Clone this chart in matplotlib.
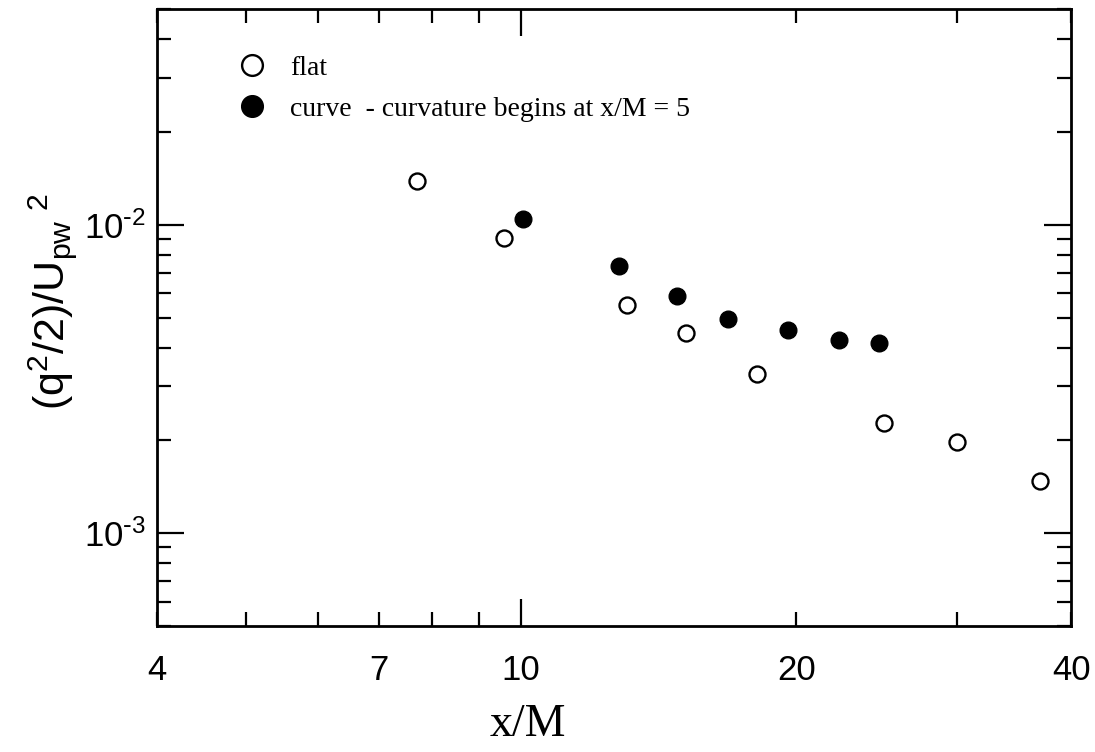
import math
import matplotlib.pyplot as plt
from matplotlib.ticker import FixedLocator, FuncFormatter, NullFormatter, LogLocator

plt.rcParams['font.family'] = ['Liberation Sans', 'DejaVu Sans']
plt.rcParams['mathtext.default'] = 'regular'

# flat plate data
x_flat = [7.69, 9.58, 13.05, 15.15, 18.13, 24.95, 29.96, 36.96]
q_flat = [0.01392, 0.00909, 0.00550, 0.00447, 0.00328, 0.00228, 0.00198, 0.00148]

# curved plate data (curvature starts at x/M = 5)
x_curve = [10.06, 12.80, 14.80, 16.86, 19.57, 22.29, 24.64]
q_curve = [0.01046, 0.00736, 0.00590, 0.00495, 0.00456, 0.00423, 0.00415]

x_labels = [4, 7, 20, 40]


def y_fmt(v, pos):
    # plain hyphen in the exponent rather than a unicode minus
    return '10$^{\\text{-}%d}$' % round(-math.log10(v))


fig = plt.figure(figsize=(10.95, 7.52), dpi=100)
ax = fig.add_axes([0.1434, 0.1676, 0.8351, 0.8198])

ax.plot(x_flat, q_flat, 'o', ms=11.5, mfc='white', mec='black', mew=1.7, label='flat')
ax.plot(x_curve, q_curve, 'o', ms=12, mfc='black', mec='black', mew=1.0,
        label='curve  - curvature begins at x/M = 5')

ax.set_xscale('log')
ax.set_yscale('log')
ax.set_xlim(4, 40)
ax.set_ylim(5e-4, 5e-2)

# x axis: long tick only at 10, short ticks elsewhere, labels on a few of them
ax.xaxis.set_major_locator(FixedLocator([10]))
ax.xaxis.set_major_formatter(FuncFormatter(lambda v, p: '%g' % v))
ax.xaxis.set_minor_locator(FixedLocator([4, 5, 6, 7, 8, 9, 20, 30, 40]))
ax.xaxis.set_minor_formatter(FuncFormatter(lambda v, p: '%g' % v if round(v) in x_labels else ''))

ax.yaxis.set_major_locator(LogLocator(base=10, numticks=10))
ax.yaxis.set_major_formatter(FuncFormatter(y_fmt))
ax.yaxis.set_minor_locator(LogLocator(base=10, subs=range(2, 10), numticks=20))
ax.yaxis.set_minor_formatter(NullFormatter())

ax.tick_params(which='both', direction='in', top=True, right=True, width=1.6, labelsize=25)
ax.tick_params(which='major', length=19.5, pad=20)
ax.tick_params(which='minor', length=10, pad=20)
ax.tick_params(axis='y', which='both', pad=8)
for s in ax.spines.values():
    s.set_linewidth(2.0)

ax.set_xlabel('x/M', family='Liberation Serif', fontsize=33)
ax.xaxis.set_label_coords(0.406, -0.126)
ax.set_ylabel('(q$^2$/2)/U$_{pw}$$^{\\ 2}$', fontsize=31)
ax.yaxis.set_label_coords(-0.085, 0.526)

ax.legend(loc='upper left', bbox_to_anchor=(0.0886, 0.926), frameon=False,
          prop={'family': 'Liberation Serif', 'size': 20}, markerscale=1.3,
          handlelength=1.0, handletextpad=0.87, labelspacing=0.56, borderpad=0,
          borderaxespad=0)

fig.savefig('out.png', dpi=100)
